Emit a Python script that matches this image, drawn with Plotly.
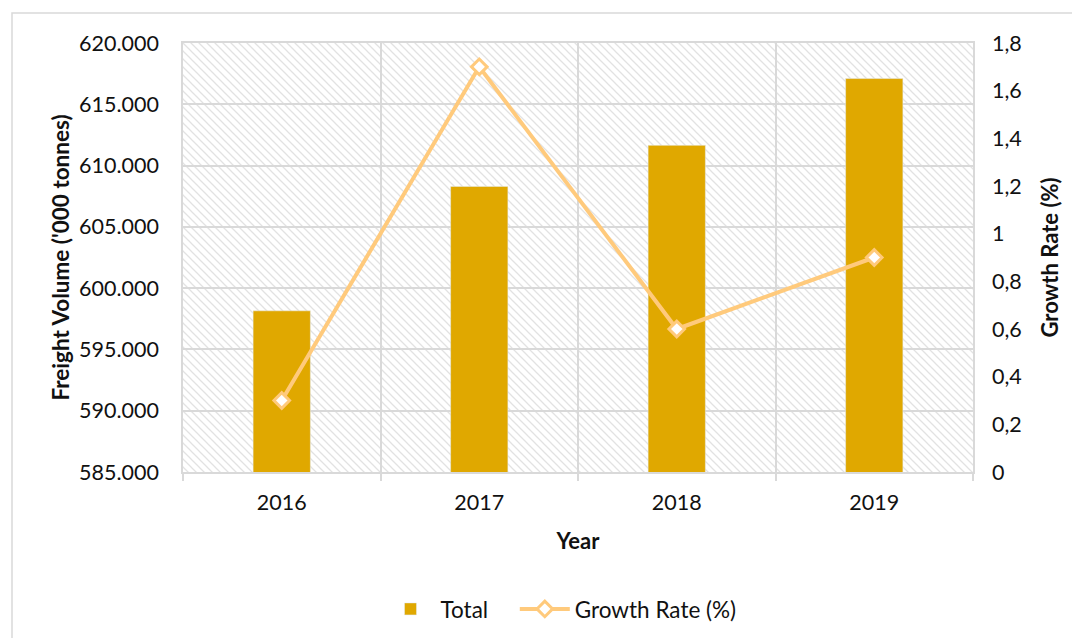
import base64
import plotly.graph_objects as go

years = ["2016", "2017", "2018", "2019"]
total = [598150, 608300, 611650, 617100]
growth = [0.3, 1.7, 0.6, 0.9]

BAR_GOLD = "#E0A800"
LINE_GOLD = "#FFCA7C"
GRID = "#D9D9D9"
FONT = "Lato"

# light downward-diagonal hatch for the plot area (Excel style pattern fill)
hatch_svg = (
    "<svg xmlns='http://www.w3.org/2000/svg' width='790' height='429'>"
    "<defs><pattern id='p' width='8' height='8' patternUnits='userSpaceOnUse'>"
    "<path d='M-2,6 l4,4 M0,0 l8,8 M6,-2 l4,4' stroke='#E2E2E2' stroke-width='1.3'/>"
    "</pattern></defs><rect width='100%' height='100%' fill='url(#p)'/></svg>"
)
hatch_uri = "data:image/svg+xml;base64," + base64.b64encode(hatch_svg.encode()).decode()

fig = go.Figure()
fig.add_trace(go.Bar(
    x=years, y=total, name="Total", marker_color=BAR_GOLD, width=0.29, yaxis="y",
    legend="legend",
))
fig.add_trace(go.Scatter(
    x=years, y=growth, name="Growth Rate (%)", yaxis="y2", mode="lines+markers",
    line=dict(color=LINE_GOLD, width=4),
    marker=dict(symbol="diamond", size=12, color="white", line=dict(color=LINE_GOLD, width=3)),
    legend="legend2",
))

legend_common = dict(orientation="h", y=-0.32, xanchor="left", yanchor="middle",
                     font=dict(size=22.5), itemwidth=50)

# page body adds an 8px offset, so margins are shifted to land the plot at 183..973 x 43..472
fig.update_layout(
    width=1080, height=638,
    margin=dict(l=175, r=115, t=35, b=174),
    paper_bgcolor="white",
    plot_bgcolor="rgba(0,0,0,0)",
    separators=",.",
    font=dict(family=FONT, size=21.5, color="#111111"),
    showlegend=True,
    legend=dict(x=0.25, **legend_common),
    legend2=dict(x=0.42, **legend_common),
    images=[dict(source=hatch_uri, xref="paper", yref="paper", x=0, y=1, sizex=1, sizey=1,
                 sizing="stretch", layer="below", xanchor="left", yanchor="top")],
    shapes=[dict(type="rect", xref="paper", yref="paper",
                 x0=(12 - 183) / 790, x1=(1100 - 183) / 790,
                 y0=(472 - 660) / 429, y1=(472 - 13) / 429,
                 line=dict(color=GRID, width=1.5), layer="below")],
    xaxis=dict(
        title=dict(text="<b>Year</b>", standoff=20, font=dict(size=22)),
        tickson="boundaries", showgrid=True, gridcolor=GRID, gridwidth=1.5,
        showline=True, linecolor=GRID, linewidth=2, mirror=True,
        ticks="outside", ticklen=7, tickcolor=GRID, tickwidth=1.5,
        ticklabelstandoff=10,
    ),
    yaxis=dict(
        title=dict(text="<b>Freight Volume ('000 tonnes)</b>", standoff=3, font=dict(size=22.5)),
        range=[585000, 620000], dtick=5000, tickformat=",d",
        showgrid=True, gridcolor=GRID, gridwidth=1.5,
        showline=True, linecolor=GRID, linewidth=1.5, mirror=True,
        ticks="", ticklabelstandoff=18, zeroline=False,
    ),
    yaxis2=dict(
        title=dict(text="<b>Growth Rate (%)</b>", standoff=21, font=dict(size=22)),
        overlaying="y", side="right", range=[0, 1.8], dtick=0.2,
        showgrid=False, zeroline=False, showline=False,
        ticks="", ticklabelstandoff=18,
    ),
)

fig.write_html("out.html")
